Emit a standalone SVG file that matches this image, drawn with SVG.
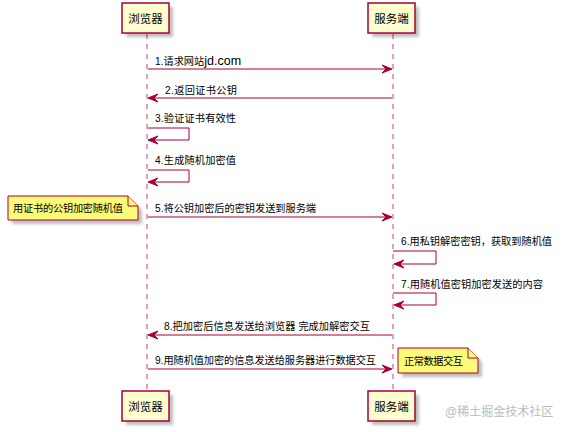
<svg xmlns="http://www.w3.org/2000/svg" width="564" height="432" viewBox="0 0 564 432">
<style>
.part{fill:#FEFECE;stroke:#A80036;stroke-width:1.5}
.pt{font-family:"Liberation Sans","Noto Sans CJK SC",sans-serif;font-size:11.5px;fill:#000;text-anchor:middle}
.life{stroke:#A80036;stroke-width:1.2;stroke-dasharray:5,5;stroke-opacity:0.6;fill:none}
.msg{stroke:#A80036;stroke-width:1;fill:none}
.head{fill:#A80036;stroke:#A80036;stroke-width:1}
.mt{font-family:"Liberation Sans","Noto Sans CJK SC",sans-serif;font-size:10.2px;fill:#000}
.lat{font-size:12.5px}
.note{fill:#FBFB77;stroke:#A80036;stroke-width:1}
.shadow{fill:#000;opacity:0.25;filter:url(#blur)}
.wm{font-family:"Liberation Sans","Noto Sans CJK SC",sans-serif;font-size:12px;fill:#BBBBBB}
</style>
<defs>
<filter id="blur" x="-20%" y="-20%" width="140%" height="140%"><feGaussianBlur stdDeviation="1.5"/></filter>
</defs>
<rect width="564" height="432" fill="#FFFFFF"/>
<g id="lifelines">
<line class="life" x1="147" y1="34" x2="147" y2="391"/>
<line class="life" x1="393" y1="34" x2="393" y2="391"/>
</g>
<g id="browser-top">
<rect class="shadow" x="126" y="7" width="47" height="30"/>
<rect class="part" x="122" y="3" width="47" height="30"/>
<text class="pt" x="145.5" y="22.5">浏览器</text>
</g>
<g id="server-top">
<rect class="shadow" x="372" y="7" width="47" height="30"/>
<rect class="part" x="368" y="3" width="47" height="30"/>
<text class="pt" x="391.5" y="22.5">服务端</text>
</g>
<g id="browser-bottom">
<rect class="shadow" x="126" y="395" width="47" height="30"/>
<rect class="part" x="122" y="391" width="47" height="30"/>
<text class="pt" x="145.5" y="411">浏览器</text>
</g>
<g id="server-bottom">
<rect class="shadow" x="372" y="395" width="47" height="30"/>
<rect class="part" x="368" y="391" width="47" height="30"/>
<text class="pt" x="391.5" y="411">服务端</text>
</g>
<g id="connectors">
<line class="msg" x1="148" y1="69" x2="391" y2="69"/>
<polygon class="head" points="382,65 392,69 382,73 386,69"/>
<text class="mt" x="155" y="65">1.请求网站<tspan class="lat">jd.com</tspan></text>

<line class="msg" x1="392" y1="98" x2="149" y2="98"/>
<polygon class="head" points="158,94 148,98 158,102 154,98"/>
<text class="mt" x="165" y="94" textLength="72">2.返回证书公钥</text>

<polyline class="msg" points="148,128 189,128 189,140 149,140"/>
<polygon class="head" points="158,136 148,140 158,144 154,140"/>
<text class="mt" x="155" y="122" textLength="81">3.验证证书有效性</text>

<polyline class="msg" points="148,170 189,170 189,182 149,182"/>
<polygon class="head" points="158,178 148,182 158,186 154,182"/>
<text class="mt" x="155" y="164" textLength="81">4.生成随机加密值</text>

<line class="msg" x1="148" y1="217" x2="391" y2="217"/>
<polygon class="head" points="382,213 392,217 382,221 386,217"/>
<text class="mt" x="155" y="212" textLength="161">5.将公钥加密后的密钥发送到服务端</text>

<polyline class="msg" points="393,251 436,251 436,264 395,264"/>
<polygon class="head" points="404,260 394,264 404,268 400,264"/>
<text class="mt" x="401" y="245" textLength="151">6.用私钥解密密钥，获取到随机值</text>

<polyline class="msg" points="393,293 436,293 436,305 395,305"/>
<polygon class="head" points="404,301 394,305 404,309 400,305"/>
<text class="mt" x="401" y="288" textLength="142">7.用随机值密钥加密发送的内容</text>

<line class="msg" x1="392" y1="335" x2="149" y2="335"/>
<polygon class="head" points="158,331 148,335 158,339 154,335"/>
<text class="mt" x="164" y="330" textLength="206">8.把加密后信息发送给浏览器 完成加解密交互</text>

<line class="msg" x1="148" y1="369" x2="391" y2="369"/>
<polygon class="head" points="382,365 392,369 382,373 386,369"/>
<text class="mt" x="155" y="364" textLength="221">9.用随机值加密的信息发送给服务器进行数据交互</text>
</g>
<g id="note-1">
<polygon class="shadow" points="12,200 132,200 142,210 142,224 12,224"/>
<polygon class="note" points="8,196 128,196 138,206 138,220 8,220"/>
<polyline class="note" points="128,196 128,206 138,206"/>
<text class="mt" x="13" y="212" textLength="110">用证书的公钥加密随机值</text>
</g>
<g id="note-2">
<polygon class="shadow" points="402,352 472,352 482,362 482,377 402,377"/>
<polygon class="note" points="398,348 468,348 478,358 478,373 398,373"/>
<polyline class="note" points="468,348 468,358 478,358"/>
<text class="mt" x="404" y="365" textLength="59">正常数据交互</text>
</g>
<text class="wm" x="445" y="416">@稀土掘金技术社区</text>
</svg>
